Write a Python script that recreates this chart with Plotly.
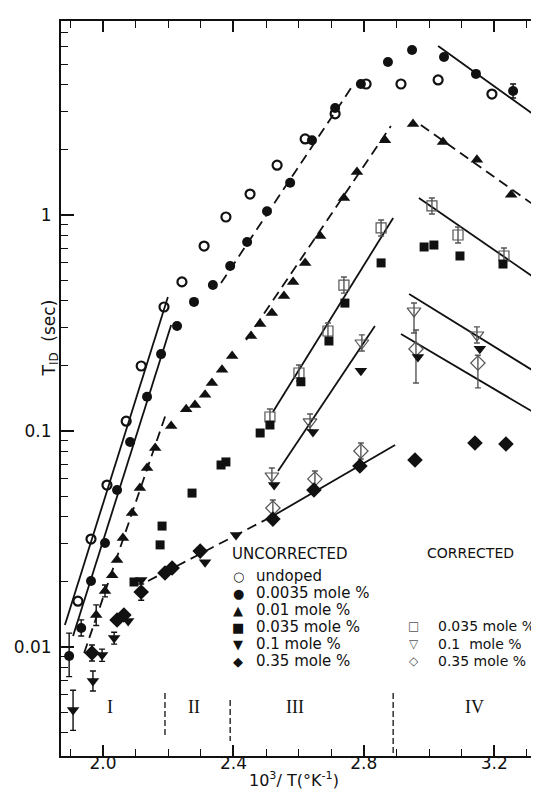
import math
import plotly.graph_objects as go

# ---------------- data (x = 10^3/T in K^-1, y = T_ID in sec) ----------------
undoped_x = [1.923, 1.963, 2.012, 2.071, 2.117, 2.187, 2.242, 2.310, 2.377, 2.451, 2.534, 2.620,
             2.712, 2.807, 2.914, 3.028, 3.193, 3.359]
undoped_y = [0.0163, 0.0316, 0.0562, 0.111, 0.200, 0.375, 0.490, 0.718, 0.979, 1.25, 1.70, 2.25,
             2.94, 4.04, 4.04, 4.22, 3.63, 3.03]

m0035_x = [1.896, 1.933, 1.963, 2.006, 2.043, 2.083, 2.135, 2.178, 2.227, 2.279, 2.337, 2.390,
           2.442, 2.503, 2.574, 2.641, 2.712, 2.791, 2.874, 2.948, 3.046, 3.144, 3.258, 3.344]
m0035_y = [0.00909, 0.01225, 0.0202, 0.0303, 0.0533, 0.0889, 0.144, 0.227, 0.306, 0.396, 0.474,
           0.581, 0.750, 1.04, 1.41, 2.22, 3.13, 4.04, 5.11, 5.81, 5.39, 4.50, 3.75, 2.67]
m0035_ep = [0.0025, 0.0011, 0, 0, 0, 0, 0, 0, 0, 0, 0, 0, 0, 0, 0, 0, 0, 0, 0, 0, 0, 0, 0.29, 0.21]
m0035_em = [0.0018, 0.0010, 0, 0, 0, 0, 0, 0, 0, 0, 0, 0, 0, 0, 0, 0, 0, 0, 0, 0, 0, 0, 0.27, 0.19]

m01_x = [1.979, 2.006, 2.028, 2.043, 2.061, 2.089, 2.113, 2.135, 2.160, 2.209, 2.255, 2.282,
         2.313, 2.334, 2.365, 2.396, 2.454, 2.482, 2.518, 2.555, 2.583, 2.620, 2.666, 2.739,
         2.779, 2.865, 2.951, 3.043, 3.147, 3.252, 3.359]
m01_y = [0.01407, 0.01816, 0.0215, 0.0253, 0.0320, 0.0417, 0.0545, 0.0674, 0.0834, 0.1055, 0.126,
         0.132, 0.147, 0.167, 0.192, 0.2225, 0.275, 0.313, 0.352, 0.422, 0.490, 0.600, 0.799,
         1.20, 1.58, 2.22, 2.64, 2.18, 1.80, 1.24, 1.00]
m01_ep = [0.0016, 0.0012] + [0] * 29
m01_em = [0.0015, 0.0011] + [0] * 29

m035_x = [2.095, 2.175, 2.181, 2.273, 2.362, 2.377, 2.482, 2.512, 2.607, 2.693, 2.742, 2.853,
          2.985, 3.015, 3.095, 3.227, 3.362]
m035_y = [0.0200, 0.0297, 0.0363, 0.0516, 0.0696, 0.0719, 0.0979, 0.1066, 0.169, 0.261, 0.391,
          0.600, 0.711, 0.726, 0.646, 0.593, 0.484]

m1_x = [1.908, 1.969, 1.997, 2.034, 2.077, 2.117, 2.313, 2.408, 2.525, 2.644, 2.791, 2.966,
        3.156, 3.350]
m1_y = [0.00511, 0.00696, 0.00918, 0.01101, 0.01319, 0.0204, 0.0247, 0.0330, 0.0562, 0.0989,
        0.190, 0.220, 0.240, 0.184]
m1_ep = [0.0012, 0.00078, 0.0006, 0.0007] + [0] * 10
m1_em = [0.0010, 0.00070, 0.0006, 0.0007] + [0] * 10

m35_x = [1.966, 2.043, 2.064, 2.117, 2.190, 2.212, 2.298, 2.521, 2.647, 2.788, 2.957, 3.141,
         3.236, 3.359]
m35_y = [0.00938, 0.01334, 0.01407, 0.01797, 0.0220, 0.0232, 0.0278, 0.0391, 0.0533, 0.0689,
         0.0734, 0.0880, 0.0871, 0.0791]
m35_ep = [0.00083, 0, 0, 0.0016] + [0] * 10
m35_em = [0.00077, 0, 0, 0.0015] + [0] * 10

# corrected values
c035_x = [2.512, 2.601, 2.690, 2.739, 2.853, 3.009, 3.089, 3.230]
c035_y = [0.1161, 0.1856, 0.2904, 0.474, 0.871, 1.101, 0.808, 0.646]
c035_ep = [0.0103, 0.0165, 0.026, 0.042, 0.077, 0.098, 0.072, 0.057]
c035_em = [0.0095, 0.0152, 0.024, 0.039, 0.071, 0.090, 0.066, 0.053]

c1_x = [2.518, 2.635, 2.794, 2.954, 3.147, 3.347]
c1_y = [0.0619, 0.1101, 0.2555, 0.3594, 0.2783, 0.2020]
c1_ep = [0.0055, 0.0098, 0.023, 0.032, 0.025, 0.018]
c1_em = [0.0051, 0.0090, 0.021, 0.075, 0.023, 0.017]

c35_x = [2.521, 2.650, 2.791, 2.960, 3.150, 3.359]
c35_y = [0.0440, 0.0600, 0.0808, 0.2397, 0.2064, 0.1173]
c35_ep = [0.0039, 0.0053, 0.0072, 0.054, 0.018, 0.010]
c35_em = [0.0036, 0.0049, 0.0066, 0.073, 0.048, 0.010]

# fitted lines: (x0, x1), (y0, y1), dash style
fit_lines = [
    ([1.883, 2.199], [0.01264, 0.4173], "solid"),   # undoped, region I
    ([1.908, 2.209], [0.01124, 0.3095], "solid"),   # 0.0035, region I
    ([2.362, 2.761], [0.4843, 3.873], "dash"),      # 0.0035, II-III
    ([3.028, 3.344], [6.059, 2.754], "solid"),      # 0.0035, IV
    ([1.942, 2.193], [0.00938, 0.1199], "dash"),    # 0.01, I
    ([2.439, 2.883], [0.2638, 2.583], "dash"),      # 0.01, II-III
    ([2.975, 3.356], [2.610, 1.022], "dash"),       # 0.01, IV
    ([2.521, 2.890], [0.1224, 0.9685], "solid"),    # 0.035, III
    ([2.969, 3.356], [1.198, 0.474], "solid"),      # 0.035, IV
    ([2.537, 2.834], [0.06528, 0.3063], "solid"),   # 0.1, III
    ([2.939, 3.356], [0.4307, 0.1759], "solid"),    # 0.1, IV
    ([2.138, 2.521], [0.02021, 0.04041], "dash"),   # 0.35, II
    ([2.521, 2.896], [0.04041, 0.08614], "solid"),  # 0.35, III
    ([2.914, 3.356], [0.2812, 0.1136], "solid"),    # corrected 0.35, IV
]

# region boundaries
region_x = [2.19, 2.39, 2.89]
region_ytop = [0.00612, 0.00568, 0.00612]
region_ybot = [0.00379, 0.00367, 0.00313]
region_names = ["I", "II", "III", "IV"]
region_label_x = [2.02, 2.28, 2.59, 3.14]
region_label_y = 0.00528

x_range = [1.871, 3.362]
y_range_log = [-2.5046, 0.8981]
x_major = [2.0, 2.4, 2.8, 3.2]
x_major_text = ["2.0", "2.4", "2.8", "3.2"]
x_minor = [1.9, 2.1, 2.2, 2.3, 2.5, 2.6, 2.7, 2.9, 3.0, 3.1, 3.3]
y_major = [0.01, 0.1, 1]
y_major_text = ["0.01", "0.1", "1"]
y_minor = [0.004, 0.005, 0.006, 0.007, 0.008, 0.009,
           0.02, 0.03, 0.04, 0.05, 0.06, 0.07, 0.08, 0.09,
           0.2, 0.3, 0.4, 0.5, 0.6, 0.7, 0.8, 0.9,
           2, 3, 4, 5, 6, 7]

legend_unc = [("○", "undoped"), ("●", "0.0035 mole %"), ("▲", "0.01 mole %"),
              ("■", "0.035 mole %"), ("▼", "0.1 mole %"), ("◆", "0.35 mole %")]
legend_cor = [("□", "0.035 mole %"), ("▽", "0.1  mole %"), ("◇", "0.35 mole %")]

# ---------------- figure ----------------
W, H = 539, 798
ML, MR, MT, MB = 53, 0, 13, 50
PW, PH = W - ML - MR, H - MT - MB


def px(xp):
    return (xp - ML) / PW


def py(yp):
    return (H - MB - yp) / PH


fig = go.Figure()
FONT = "DejaVu Sans"
BLACK = "#111111"
GREY = "#555555"

for xs, ys, dash in fit_lines:
    fig.add_trace(go.Scatter(x=xs, y=ys, mode="lines", showlegend=False, hoverinfo="skip",
                             line=dict(color=BLACK, width=1.8,
                                       dash="solid" if dash == "solid" else "10px,6px")))

for xr, yt, yb in zip(region_x, region_ytop, region_ybot):
    fig.add_trace(go.Scatter(x=[xr, xr], y=[yt, yb], mode="lines", showlegend=False,
                             hoverinfo="skip",
                             line=dict(color=BLACK, width=1.3, dash="6px,3px")))


def err(ep, em, color=BLACK, w=1.4):
    return dict(type="data", symmetric=False, array=ep, arrayminus=em,
                color=color, thickness=w, width=3)


def add_series(x, y, symbol, size, ep=None, em=None, color=BLACK, lw=0):
    marker = dict(symbol=symbol, size=size, color=color, line=dict(color=color, width=lw))
    tr = go.Scatter(x=x, y=y, mode="markers", marker=marker, showlegend=False)
    if ep is not None:
        tr.error_y = err(ep, em, color=color)
    fig.add_trace(tr)


# corrected first (under filled)
add_series(c035_x, c035_y, "square-open", 10, c035_ep, c035_em, color=GREY, lw=1.2)
add_series(c1_x, c1_y, "triangle-down-open", 12, c1_ep, c1_em, color=GREY, lw=1.2)
add_series(c35_x, c35_y, "diamond-open", 11, c35_ep, c35_em, color=GREY, lw=1.2)

add_series(undoped_x, undoped_y, "circle-open", 9, color=BLACK, lw=2.2)
add_series(m0035_x, m0035_y, "circle", 10, m0035_ep, m0035_em)
add_series(m01_x, m01_y, "triangle-up", 11, m01_ep, m01_em)
add_series(m035_x, m035_y, "square", 9, None, None)
add_series(m1_x, m1_y, "triangle-down", 11, m1_ep, m1_em)
add_series(m35_x, m35_y, "diamond", 12, m35_ep, m35_em)

ann = []
for name, lx in zip(region_names, region_label_x):
    ann.append(dict(x=lx, y=math.log10(region_label_y), xref="x", yref="y", text=name,
                    showarrow=False,
                    font=dict(family="Liberation Serif", size=18, color=BLACK)))

# axis titles
ann.append(dict(x=px(286), y=py(784), xref="paper", yref="paper", showarrow=False,
                text="10<sup>3</sup>/ T(°K<sup>-1</sup>)",
                font=dict(family=FONT, size=16, color=BLACK)))
ann.append(dict(x=px(28), y=py(330), xref="paper", yref="paper", showarrow=False, textangle=-90,
                text="T<sub>ID</sub>  (sec)", font=dict(family=FONT, size=17, color=BLACK)))

# hand-placed key like the original
ann.append(dict(x=px(222), y=py(557), xref="paper", yref="paper", showarrow=False,
                xanchor="left", text="UNCORRECTED", font=dict(family=FONT, size=15, color=BLACK)))
ann.append(dict(x=px(417), y=py(555), xref="paper", yref="paper", showarrow=False,
                xanchor="left", text="CORRECTED", font=dict(family=FONT, size=14, color=BLACK)))
rows_unc = [578, 595, 612, 629, 646, 663]
for (sym, lab), ry in zip(legend_unc, rows_unc):
    ann.append(dict(x=px(230), y=py(ry), xref="paper", yref="paper", showarrow=False,
                    text=sym, height=16, font=dict(family=FONT, size=13, color=BLACK)))
    ann.append(dict(x=px(246), y=py(ry), xref="paper", yref="paper", showarrow=False,
                    xanchor="left", text=lab, height=16,
                    font=dict(family=FONT, size=15, color=BLACK)))
rows_cor = [628, 646, 663]
for (sym, lab), ry in zip(legend_cor, rows_cor):
    ann.append(dict(x=px(413), y=py(ry), xref="paper", yref="paper", showarrow=False,
                    text=sym, height=16, font=dict(family=FONT, size=12, color=GREY)))
    ann.append(dict(x=px(428), y=py(ry), xref="paper", yref="paper", showarrow=False,
                    xanchor="left", text=lab, height=16,
                    font=dict(family=FONT, size=14, color=BLACK)))

fig.update_layout(
    width=W, height=H, margin=dict(l=ML, r=MR, t=MT, b=MB, autoexpand=False),
    paper_bgcolor="white", plot_bgcolor="white", showlegend=False,
    annotations=ann,
    font=dict(family=FONT, size=16, color=BLACK),
)
fig.update_xaxes(range=x_range, showgrid=False, zeroline=False, showline=True, linecolor=BLACK,
                 linewidth=2, mirror="ticks", ticks="inside", ticklen=11, tickwidth=1.6,
                 tickcolor=BLACK, tickmode="array", tickvals=x_major, ticktext=x_major_text,
                 tickfont=dict(family=FONT, size=17, color=BLACK),
                 minor=dict(tickmode="array", tickvals=x_minor, ticks="inside", ticklen=7,
                            tickwidth=1.4, tickcolor=BLACK, showgrid=False))
fig.update_yaxes(type="log", range=y_range_log, showgrid=False, zeroline=False, showline=True,
                 linecolor=BLACK, linewidth=2, mirror=False, ticks="inside", ticklen=13,
                 tickwidth=1.6, tickcolor=BLACK, tickmode="array", tickvals=y_major,
                 ticktext=y_major_text, tickfont=dict(family=FONT, size=17, color=BLACK),
                 minor=dict(tickmode="array", tickvals=y_minor, ticks="inside", ticklen=7,
                            tickwidth=1.4, tickcolor=BLACK, showgrid=False))
try:
    fig.update_xaxes(ticklabelstandoff=-9)
except Exception:
    pass
try:
    fig.update_yaxes(ticklabelstandoff=4)
except Exception:
    pass

fig.write_html("out.html")
